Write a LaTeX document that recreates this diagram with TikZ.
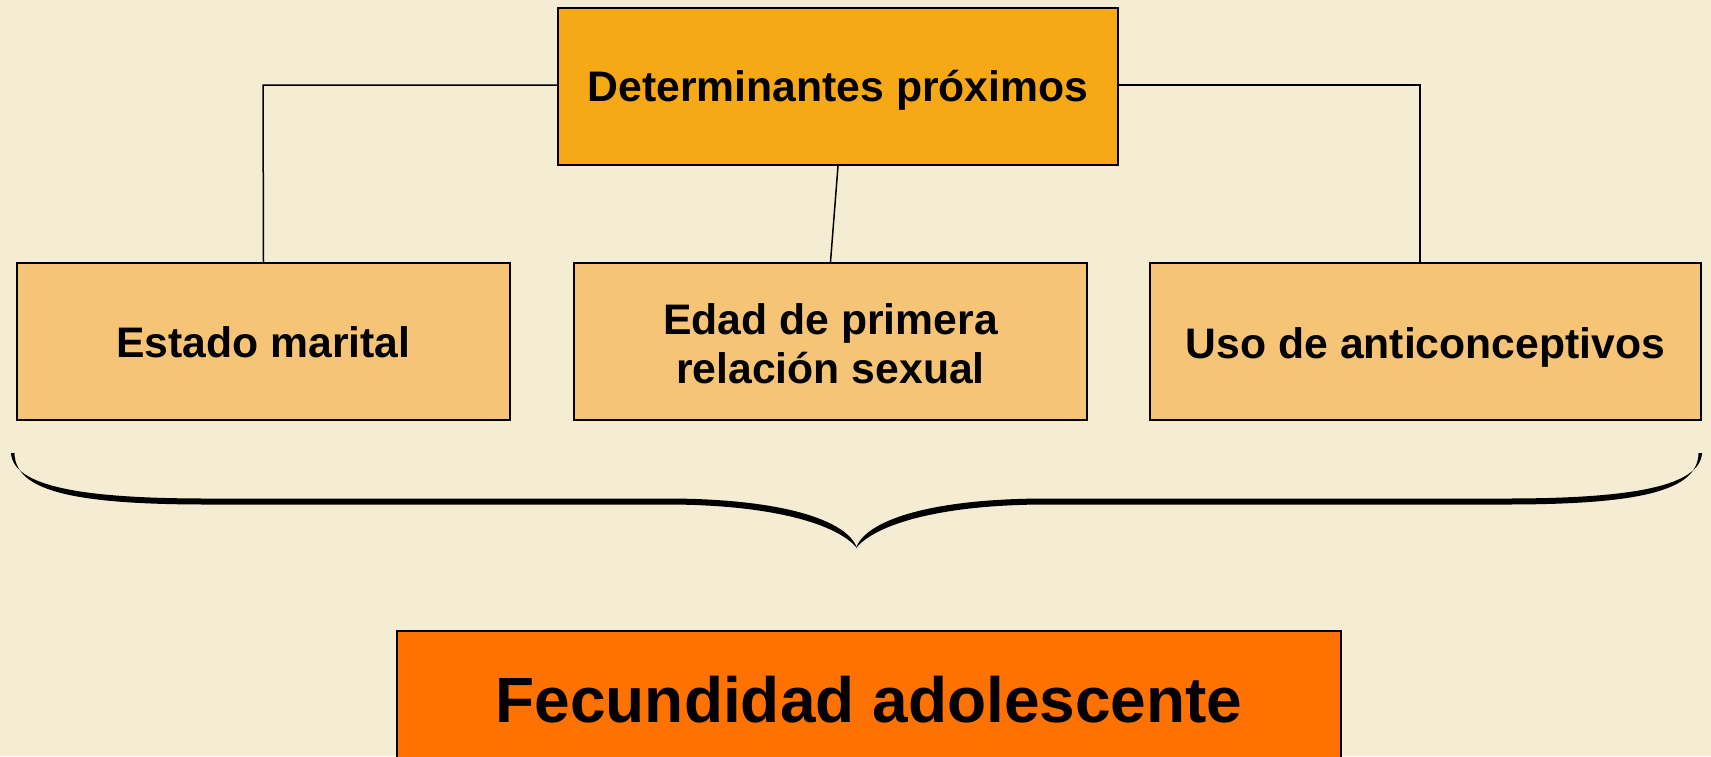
\documentclass[tikz,border=0pt]{standalone}
\usepackage{fontspec}
\setmainfont{Liberation Sans}
\definecolor{bgc}{HTML}{F4EDD4}
\definecolor{topc}{HTML}{F6A816}
\definecolor{lowc}{HTML}{F5C477}
\definecolor{fecc}{HTML}{FF7200}
\tikzset{
  boxbase/.style={draw=black, line width=2.2pt, inner sep=0pt},
  txt/.style={align=center, inner sep=0pt, text=black,
    font=\fontsize{42.7}{49}\selectfont\bfseries},
  bigtxt/.style={txt, font=\fontsize{64}{70}\selectfont\bfseries},
  topbox/.style={boxbase, fill=topc},
  lowbox/.style={boxbase, fill=lowc, minimum height=157pt},
  fecbox/.style={boxbase, fill=fecc},
  conn/.style={draw=black, line width=1.5pt},
  bracefill/.style={fill=black}
}
\begin{document}
\begin{tikzpicture}[x=1pt,y=-1pt]
\fill[bgc] (0,0) rectangle (1711,756);
\useasboundingbox (0,0) rectangle (1711,756);
\clip (0,0) rectangle (1711,756);

\node[topbox, minimum width=560pt, minimum height=157pt] (top) at (838,86.5) {};
\node[lowbox, minimum width=493pt] (est) at (263.5,341.5) {};
\node[lowbox, minimum width=513pt] (mid) at (830.5,341.5) {};
\node[lowbox, minimum width=551pt] (uso) at (1425.5,341.5) {};
\node[fecbox, minimum width=944pt, minimum height=138pt] (fec) at (869,700) {};

\node[txt] (toptxt) at ([yshift=-4pt]top.center) {Determinantes próximos};
\node[txt] (esttxt) at ([yshift=-1pt]est.center) {Estado marital};
\node[txt] (midtxt) at ([yshift=-2pt]mid.center) {Edad de primera\\relación sexual};
\node[txt] (usotxt) at ([yshift=-6pt]uso.center) {Uso de anticonceptivos};
\node[bigtxt] (fectxt) at (fec.center) {Fecundidad adolescente};

\coordinate (lt) at (263,85);
\coordinate (rt) at (1420,85);
\coordinate (rb) at (1420,263);
\draw[conn] (top.west |- lt) -- (lt) -- (est.north);
\draw[conn] (top.east |- rt) -- (rt) -- (rb);
\draw[conn] (top.south) -- (mid.north);

\fill[bracefill] (11,453) .. controls (13,486) and (80,498.5) .. (207,498.5)
  -- (666,498.5) .. controls (782,498.5) and (847,520) .. (857,548)
  .. controls (838,525) and (775,504.5) .. (666,504.5)
  -- (207,504.5) .. controls (70,504.5) and (15,490) .. (14.5,453) -- cycle;
\begin{scope}[shift={(1713,0)}, xscale=-1]
\fill[bracefill] (11,453) .. controls (13,486) and (80,498.5) .. (207,498.5)
  -- (666,498.5) .. controls (782,498.5) and (847,520) .. (857,548)
  .. controls (838,525) and (775,504.5) .. (666,504.5)
  -- (207,504.5) .. controls (70,504.5) and (15,490) .. (14.5,453) -- cycle;
\end{scope}
\end{tikzpicture}
\end{document}
